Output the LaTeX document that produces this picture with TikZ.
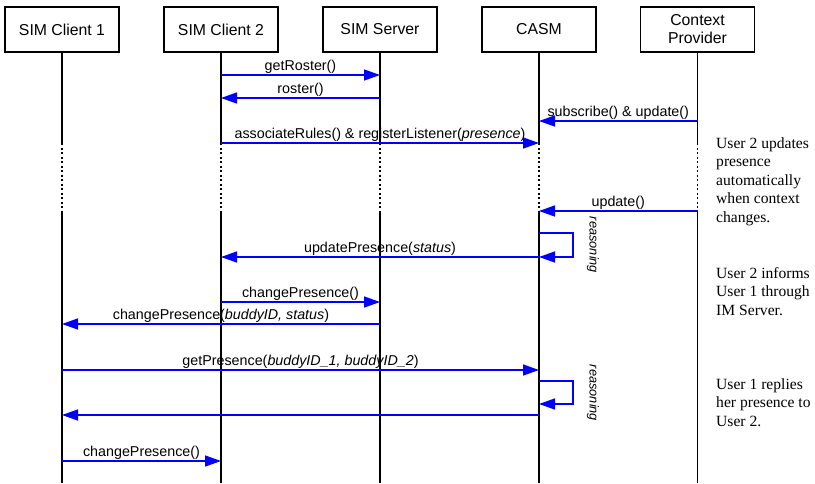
\documentclass[tikz,border=0pt]{standalone}
\usepackage{fontspec}
\setmainfont{Liberation Serif}
\setsansfont{Liberation Sans}
\usetikzlibrary{arrows.meta}

\tikzset{
	actor/.style={draw, line width=1.2pt, minimum width=114pt, minimum height=45pt, inner sep=0pt, align=center, font=\sffamily\fontsize{15.8}{18}\selectfont},
	lifeline/.style={line width=1.6pt},
	gap/.style={lifeline, dash pattern=on 2pt off 2.5pt},
	msg/.style={draw=blue, line width=1.5pt, -{Triangle[length=16pt,width=11pt]}},
	msglabel/.style={anchor=base, yshift=5pt, inner sep=0pt, font=\sffamily\fontsize{14.3}{16}\selectfont},
	reason/.style={rotate=-90, inner sep=0pt, font=\sffamily\itshape\fontsize{12.8}{14}\selectfont},
	note/.style={anchor=north west, inner sep=0pt, align=left, font=\fontsize{15.6}{18.5}\selectfont},
}

% message from lifeline #1 to lifeline #2 at height #3
\newcommand\msgarrow[4]{\draw[msg] (#1 |- 0,#3) -- node[msglabel] {#4} (#2 |- 0,#3);}

\begin{document}
\begin{tikzpicture}[x=1pt, y=-1pt]
	\useasboundingbox (0,0) rectangle (815,483);

	\node (client1) [actor] at (62,29.5) {SIM Client 1};
	\node (client2) [actor] at (221,29.5) {SIM Client 2};
	\node (server) [actor] at (380,29.5) {SIM Server};
	\node (casm) [actor] at (539,29.5) {CASM};
	\node (provider) [actor] at (697.5,29.5) {Context\\Provider};

	\foreach \n in {client1,client2,server,casm,provider} {
		\draw[lifeline] (\n.south) -- (\n |- 0,143);
		\draw[gap] (\n |- 0,143) -- (\n |- 0,210.5);
		\draw[lifeline] (\n |- 0,210.5) -- (\n |- 0,483);
	}

	\msgarrow{client2}{server}{75}{getRoster()}
	\msgarrow{server}{client2}{98}{roster()}
	\msgarrow{provider}{casm}{121}{subscribe() \& update()}
	\msgarrow{client2}{casm}{143}{associateRules() \& registerListener(\textit{presence})}
	\msgarrow{provider}{casm}{211}{update()}
	\draw[msg] (casm |- 0,233) -- ++(34,0) |- (casm |- 0,257);
	\node (reason1) [reason] at (593,245) {reasoning};
	\msgarrow{casm}{client2}{257}{updatePresence(\textit{status})}
	\msgarrow{client2}{server}{302}{changePresence()}
	\msgarrow{server}{client1}{324}{changePresence(\textit{buddyID, status})}
	\msgarrow{client1}{casm}{370}{getPresence(\textit{buddyID\_1, buddyID\_2})}
	\draw[msg] (casm |- 0,381) -- ++(34,0) |- (casm |- 0,404);
	\node (reason2) [reason] at (593,393) {reasoning};
	\msgarrow{casm}{client1}{415}{}
	\msgarrow{client1}{client2}{461}{changePresence()}

	\node (note1) [note] at (716,137) {User 2 updates\\presence\\automatically\\when context\\changes.};
	\node (note2) [note] at (716,267) {User 2 informs\\User 1 through\\IM Server.};
	\node (note3) [note] at (716,378) {User 1 replies\\her presence to\\User 2.};
\end{tikzpicture}
\end{document}
